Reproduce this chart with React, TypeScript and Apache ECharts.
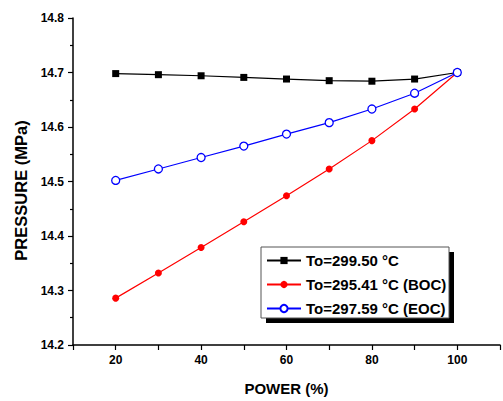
import React, { useEffect, useRef } from "react";
import * as echarts from "echarts";

const powers = [20, 30, 40, 50, 60, 70, 80, 90, 100];
const seriesNames = ["To=299.50 °C", "To=295.41 °C (BOC)", "To=297.59 °C (EOC)"];
const blackValues = [14.698, 14.696, 14.694, 14.691, 14.688, 14.685, 14.684, 14.688, 14.7];
const redValues = [14.286, 14.332, 14.379, 14.426, 14.474, 14.523, 14.575, 14.633, 14.7];
const blueValues = [14.502, 14.523, 14.544, 14.565, 14.587, 14.608, 14.633, 14.662, 14.7];
const xLabelValues = [20, 40, 60, 80, 100];

const FONT = 'Arial, "Liberation Sans", sans-serif';

export default function App() {
  const ref = useRef<HTMLDivElement>(null);
  useEffect(() => {
    if (!ref.current) return;
    const chart = echarts.init(ref.current, null, { renderer: "svg" });
    const pair = (vals: number[]) => powers.map((p, i) => [p, vals[i]]);
    chart.setOption({
      animation: false,
      backgroundColor: "#ffffff",
      textStyle: { fontFamily: FONT },
      grid: { left: 73, top: 18, width: 430, height: 331, containLabel: false },
      graphic: [
        { type: "rect", shape: { x: 266, y: 252, width: 188, height: 71 }, style: { fill: "#000" }, z: 10 },
        { type: "rect", shape: { x: 261, y: 247, width: 188, height: 71 }, style: { fill: "#fff", stroke: "#555", lineWidth: 1 }, z: 11 },
      ],
      legend: {
        orient: "vertical",
        left: 262,
        top: 251,
        padding: [2, 4],
        itemGap: 9,
        itemWidth: 34,
        itemHeight: 9,
        z: 20,
        data: seriesNames,
        textStyle: { fontFamily: FONT, fontSize: 15, fontWeight: "bold", color: "#000", padding: [0, 0, 0, 0] },
      },
      xAxis: {
        type: "value",
        min: 10,
        max: 110,
        interval: 10,
        name: "POWER (%)",
        nameLocation: "middle",
        nameGap: 36,
        nameTextStyle: { fontFamily: FONT, fontSize: 15, fontWeight: "bold", color: "#000" },
        axisLine: { show: true, onZero: false, lineStyle: { color: "#000", width: 1.5 } },
        axisTick: { show: true, inside: false, length: 5, lineStyle: { color: "#000", width: 1.2 } },
        axisLabel: {
          margin: 9,
          fontFamily: FONT,
          fontSize: 12,
          fontWeight: "bold",
          color: "#000",
          formatter: (v: number) => (xLabelValues.includes(Math.round(v)) ? String(Math.round(v)) : ""),
        },
        splitLine: { show: false },
      },
      yAxis: {
        type: "value",
        min: 14.2,
        max: 14.8,
        interval: 0.1,
        name: "PRESSURE (MPa)",
        nameLocation: "middle",
        nameGap: 40,
        nameRotate: 90,
        nameTextStyle: { fontFamily: FONT, fontSize: 16.5, fontWeight: "bold", color: "#000", padding: [0, 18, 0, 0] },
        axisLine: { show: true, lineStyle: { color: "#000", width: 1.5 } },
        axisTick: { show: true, inside: false, length: 5, lineStyle: { color: "#000", width: 1.2 } },
        minorTick: { show: true, splitNumber: 2, length: 3, lineStyle: { color: "#000", width: 1.2 } },
        axisLabel: {
          margin: 9,
          fontFamily: FONT,
          fontSize: 12,
          fontWeight: "bold",
          color: "#000",
          formatter: (v: number) => v.toFixed(1),
        },
        splitLine: { show: false },
      },
      series: [
        {
          name: seriesNames[0],
          type: "line",
          data: pair(blackValues),
          symbol: "rect",
          symbolSize: 7,
          lineStyle: { color: "#000", width: 1.2 },
          itemStyle: { color: "#000" },
          z: 3,
        },
        {
          name: seriesNames[1],
          type: "line",
          data: pair(redValues),
          symbol: "circle",
          symbolSize: 7,
          lineStyle: { color: "#ff0000", width: 1.2 },
          itemStyle: { color: "#ff0000" },
          z: 4,
        },
        {
          name: seriesNames[2],
          type: "line",
          data: pair(blueValues),
          symbol: "circle",
          symbolSize: 8,
          lineStyle: { color: "#0000ff", width: 1.2 },
          itemStyle: { color: "#ffffff", borderColor: "#0000ff", borderWidth: 1.3 },
          z: 5,
        },
      ],
    });
    return () => chart.dispose();
  }, []);
  return (
    <div
      ref={ref}
      style={{ position: "absolute", left: 0, top: 0, width: 503, height: 401 }}
    />
  );
}
